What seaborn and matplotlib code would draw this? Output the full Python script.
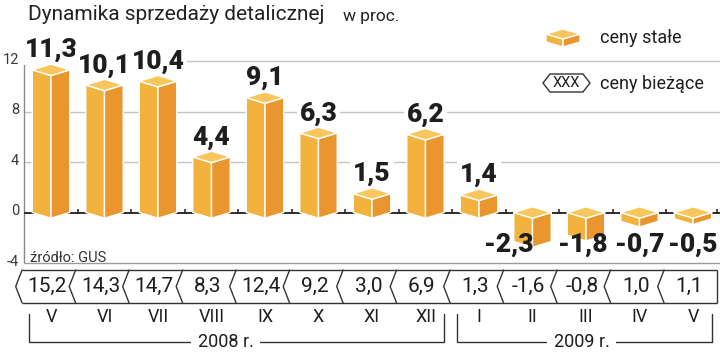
import numpy as np
import pandas as pd
import matplotlib
matplotlib.use("Agg")
import matplotlib.pyplot as plt
from matplotlib.patches import Polygon
import seaborn as sns

# ---------------- data ----------------
months = ["V", "VI", "VII", "VIII", "IX", "X", "XI", "XII", "I", "II", "III", "IV", "V"]
constant_prices = [11.3, 10.1, 10.4, 4.4, 9.1, 6.3, 1.5, 6.2, 1.4, -2.3, -1.8, -0.7, -0.5]
current_prices = [15.2, 14.3, 14.7, 8.3, 12.4, 9.2, 3.0, 6.9, 1.3, -1.6, -0.8, 1.0, 1.1]
years = ["2008 r.", "2009 r."]
months_per_year = [8, 5]
y_ticks = [12, 8, 4, 0, -4]

title = "Dynamika sprzedaży detalicznej"
unit = "w proc."
source = "źródło: GUS"
legend_labels = ["ceny stałe", "ceny bieżące"]

# ---------------- style ----------------
C_LEFT, C_RIGHT, C_TOP = "#F2B23E", "#E8962D", "#F8C65C"
INK = "#1e1e1e"
sns.set_style("white")
plt.rcParams["font.family"] = ["Roboto", "DejaVu Sans"]

W, H = 720, 356
PX_X, PX_Y, X0, Y0 = 53.5, 12.625, 51, 212.5

fig = plt.figure(figsize=(W / 100, H / 100), dpi=100)
ax = fig.add_axes([0, 0, 1, 1])

df = pd.DataFrame({"pos": np.arange(len(months)), "value": constant_prices})
sns.barplot(data=df, x="pos", y="value", native_scale=True, width=0.7,
            color=C_LEFT, ax=ax)

ax.set_xlim(-X0 / PX_X, (W - X0) / PX_X)
ax.set_ylim(-(H - Y0) / PX_Y, Y0 / PX_Y)
ax.axis("off")


def py(p):  # layout helper: pixel row -> axis units
    return (Y0 - p) / PX_Y


def px(p):  # layout helper: pixel column -> axis units
    return (p - X0) / PX_X


def dy(p):
    return p / PX_Y


def fmt(v):
    return f"{v:.1f}".replace(".", ",")


def draw_box(xl, xr, bot, top, d, z=3):
    xc = (xl + xr) / 2
    faces = [
        ([(xl, top), (xc, top - d), (xc, bot - d), (xl, bot)], C_LEFT),
        ([(xc, top - d), (xr, top), (xr, bot), (xc, bot - d)], C_RIGHT),
        ([(xl, top), (xc, top + d), (xr, top), (xc, top - d)], C_TOP),
    ]
    for pts, c in faces:
        ax.add_patch(Polygon(pts, closed=True, fc=c, ec="white", lw=1.0,
                             joinstyle="round", zorder=z))


# ---------------- grid ----------------
xmax = ax.get_xlim()[1]
for yv in [12, 8, 4]:
    ax.hlines(yv, -0.5, xmax, color="#c4c4c4", lw=1, zorder=1)
ax.hlines(-4, -0.5, xmax, color="#9c9c9c", lw=1, zorder=1)
ax.vlines(-0.5, -4, 12, color="#8a8a8a", lw=1, zorder=1)
ax.hlines(0, -0.5, xmax, color=INK, lw=1.3, zorder=1.5)
bounds = np.arange(len(months) + 1) - 0.5
ax.vlines(list(bounds[1:-1]) + [bounds[-1] - 0.05], 0, dy(3.5), color=INK, lw=1.1, zorder=1.5)

for yv in y_ticks:
    ax.text(px(19), yv + dy(1.5), str(yv), ha="right", va="center",
            fontsize=10.5, color="#3a3a3a")

ax.text(px(30), py(262), source, ha="left", va="baseline", fontsize=10.5,
        color="#333333", zorder=2)

# ---------------- 3D bars ----------------
d = dy(5.7)
label_nudge = {9: -0.45, 10: -0.07}
for i, (p, v) in enumerate(zip(list(ax.patches), constant_prices)):
    x0, w = p.get_x(), p.get_width()
    y0, h = p.get_y(), p.get_height()
    top, bot = max(y0, y0 + h), min(y0, y0 + h)
    p.set_visible(False)
    draw_box(x0, x0 + w, bot, top, d)
    xc = x0 + w / 2
    if v >= 0:
        ax.annotate(fmt(v), (xc, top + d), xytext=(0, 5), textcoords="offset points",
                    ha="center", va="baseline", fontsize=19, fontweight="heavy",
                    color=INK, zorder=2.5,
                    bbox=dict(fc="white", ec="none", pad=2))
    else:
        ax.text(xc + label_nudge.get(i, 0), -2.6, fmt(v), ha="center", va="center",
                fontsize=19, fontweight="heavy", color=INK, zorder=5)

# ---------------- current prices row ----------------
row_top, row_bot, row_mid = py(270), py(303), py(286.5)
for b in bounds[:-1]:
    ax.plot([b - 0.04, b - 0.16, b - 0.04], [row_top, row_mid, row_bot],
            color="#333333", lw=1, solid_joinstyle="miter", zorder=2)
ax.hlines([row_top, row_bot], bounds[0] - 0.04, bounds[-1] - 0.06, color="#333333", lw=1, zorder=2)
ax.vlines(bounds[-1] - 0.06, row_bot, row_top, color="#333333", lw=1, zorder=2)
for i, v in enumerate(current_prices):
    ax.text(i - 0.07, row_mid, fmt(v), ha="center", va="center", fontsize=15,
            color=INK)

for i, m in enumerate(months):
    ax.text(i, py(317), m, ha="center", va="center", fontsize=13, color=INK)

# ---------------- year brackets ----------------
start = 0
for yname, n in zip(years, months_per_year):
    left = start - 0.42
    right = start + n - 1 + 0.35
    yb, yt = py(342), py(314)
    ax.plot([left, left, right, right], [yt, yb, yb, yt], color="#333333", lw=1, zorder=2)
    ax.text((left + right) / 2 - (0.2 if start == 0 else 0.05), yb, yname,
            ha="center", va="center", fontsize=13, color=INK, zorder=3,
            bbox=dict(fc="white", ec="none", pad=5))
    start += n

# ---------------- title ----------------
fig.text(28 / W, 1 - 20 / H, title, ha="left", va="baseline", fontsize=15, color="#222222")
fig.text(343 / W, 1 - 21 / H, unit, ha="left", va="baseline", fontsize=12.5, color="#222222")

# ---------------- legend ----------------
draw_box(px(546), px(580), py(42), py(34), dy(5), z=4)
ax.text(px(600), py(43), legend_labels[0], ha="left", va="baseline", fontsize=13, color=INK)
hexagon = [(543, 83), (550, 74), (583, 74), (590, 83), (583, 92), (550, 92)]
ax.add_patch(Polygon([(px(a), py(b)) for a, b in hexagon], closed=True, fc="white",
                     ec="#333333", lw=1, zorder=4))
ax.text(px(566.5), py(83), "XXX", ha="center", va="center", fontsize=10.5,
        color=INK, zorder=5)
ax.text(px(600), py(88.5), legend_labels[1], ha="left", va="baseline", fontsize=13, color=INK)

fig.savefig("out.png", dpi=100)
